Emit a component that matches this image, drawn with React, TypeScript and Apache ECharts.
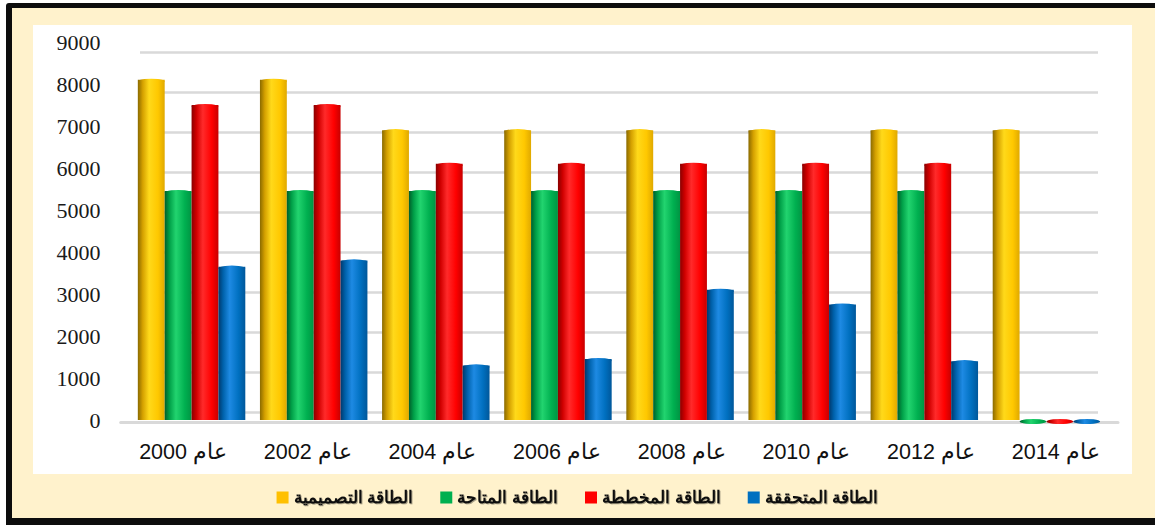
import React, { useEffect, useRef } from "react";
import * as echarts from "echarts";

const categories = ["عام 2000", "عام 2002", "عام 2004", "عام 2006", "عام 2008", "عام 2010", "عام 2012", "عام 2014"];
const seriesNames = ["الطاقة التصميمية", "الطاقة المتاحة", "الطاقة المخططة", "الطاقة المتحققة"];
const designCapacity = [8100, 8100, 6900, 6900, 6900, 6900, 6900, 6900];
const availableCapacity = [5450, 5450, 5450, 5450, 5450, 5450, 5450, 0];
const plannedCapacity = [7500, 7500, 6100, 6100, 6100, 6100, 6100, 0];
const achievedCapacity = [3650, 3800, 1300, 1450, 3100, 2750, 1400, 0];
const baseColors = ["#FFC000", "#00B050", "#FF0000", "#0070C0"];
const gradientStops = [
  ["#8a6a00", "#d4a000", "#ffd91a", "#ffc800", "#e0a900"],
  ["#005e2a", "#00a048", "#22d46f", "#00b050", "#009443"],
  ["#8a0000", "#d00000", "#ff2a2a", "#ff0000", "#c80000"],
  ["#00396d", "#0062ac", "#1e8ae3", "#0070c0", "#00579a"],
];

function cylinder(stops: string[]) {
  return new echarts.graphic.LinearGradient(0, 0, 1, 0, [
    { offset: 0, color: stops[0] },
    { offset: 0.18, color: stops[1] },
    { offset: 0.42, color: stops[2] },
    { offset: 0.75, color: stops[3] },
    { offset: 1, color: stops[4] },
  ]);
}

export default function App() {
  const ref = useRef<HTMLDivElement>(null);
  useEffect(() => {
    if (!ref.current) return;
    const chart = echarts.init(ref.current, undefined, { renderer: "svg" });
    const values = [designCapacity, availableCapacity, plannedCapacity, achievedCapacity];
    const bars = seriesNames.map((name, i) => ({
      name,
      type: "bar",
      xAxisIndex: 0,
      yAxisIndex: 0,
      data: values[i],
      barGap: "0%",
      barCategoryGap: "12%",
      itemStyle: { color: cylinder(gradientStops[i]) },
    }));
    const caps = seriesNames.map((name, i) => ({
      name: name + " ",
      type: "pictorialBar",
      xAxisIndex: 0,
      yAxisIndex: 0,
      data: values[i],
      barGap: "0%",
      barCategoryGap: "12%",
      symbol: "circle",
      symbolSize: ["100%", 5],
      symbolPosition: "end",
      symbolOffset: [0, -1],
      z: 3,
      itemStyle: { color: cylinder(gradientStops[i]) },
    }));
    chart.setOption({
      animation: false,
      backgroundColor: "transparent",
      textStyle: { fontFamily: "Liberation Sans, Arial, sans-serif" },
      grid: [
        { left: 130.5, right: 47.5, top: 42, bottom: 105 },
        { left: 140, right: 57, top: 52, bottom: 113 },
        { left: 120.7, right: 37, top: 380, bottom: 103 },
      ],
      xAxis: [
        { type: "category", gridIndex: 0, data: categories, axisLine: { show: false }, axisTick: { show: false }, axisLabel: { show: false } },
        { type: "category", gridIndex: 1, data: categories, show: false },
        {
          type: "category",
          gridIndex: 2,
          data: categories,
          axisLine: { show: true, lineStyle: { color: "#d9d9d9", width: 3 } },
          axisTick: { show: false },
          axisLabel: { margin: 19, fontSize: 21.5, color: "#111", fontFamily: "Liberation Sans, Arial, sans-serif" },
        },
      ],
      yAxis: [
        {
          type: "value",
          gridIndex: 0,
          min: 0,
          max: 9000,
          interval: 1000,
          axisLine: { show: false },
          axisTick: { show: false },
          splitLine: { show: false },
          axisLabel: {
            show: true,
            margin: 30,
            fontSize: 22,
            color: "#1a1a1a",
            fontFamily: "Liberation Serif, DejaVu Serif, serif",
            formatter: (v: number) => String(v),
          },
        },
        {
          type: "value",
          gridIndex: 1,
          min: 0,
          max: 9000,
          interval: 1000,
          axisLine: { show: false },
          axisTick: { show: false },
          axisLabel: { show: false },
          splitLine: { show: true, lineStyle: { color: "#d9d9d9", width: 2.5 } },
        },
        { type: "value", gridIndex: 2, show: false },
      ],
      legend: {
        left: "center",
        top: 484,
        itemWidth: 12,
        itemHeight: 12,
        itemGap: 27,
        icon: "rect",
        textStyle: {
          fontSize: 17,
          fontWeight: "bold",
          color: "#111",
          fontFamily: "Liberation Sans, Arial, sans-serif",
          textShadowColor: "rgba(0,0,0,0.35)",
          textShadowOffsetX: 1,
          textShadowOffsetY: 1,
          textShadowBlur: 1,
        },
        data: seriesNames.map((n, i) => ({ name: n, itemStyle: { color: baseColors[i] } })),
      },
      series: [...bars, ...caps],
    });
    return () => chart.dispose();
  }, []);

  return (
    <div style={{ position: "absolute", left: 0, top: 0, width: 1155, height: 525, background: "#ffffff", overflow: "hidden" }}>
      <div style={{ position: "absolute", left: 6, top: 3, width: 1160, height: 530, background: "#0d0d0d", borderRadius: 3 }} />
      <div style={{ position: "absolute", left: 12, top: 8, width: 1150, height: 510, background: "#FFF2CC" }} />
      <div style={{ position: "absolute", left: 33, top: 25, width: 1099, height: 449, background: "#ffffff" }} />
      <div ref={ref} style={{ position: "absolute", left: 0, top: 0, width: 1155, height: 525 }} />
    </div>
  );
}
